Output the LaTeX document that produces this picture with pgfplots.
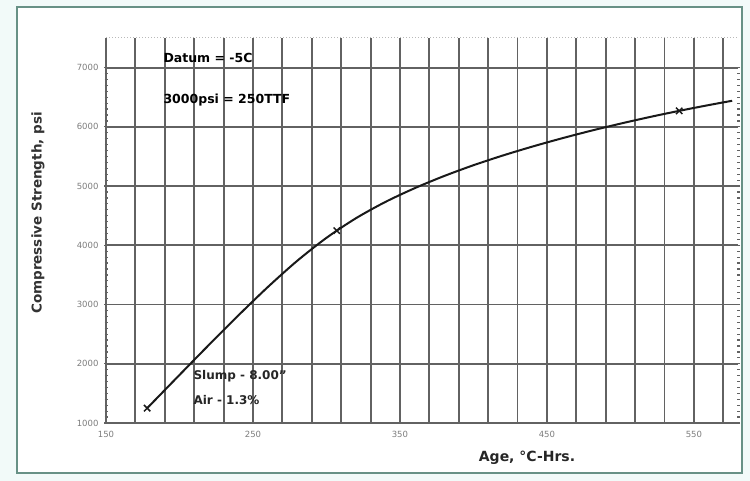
\documentclass[border=0pt]{standalone}
\usepackage{fontspec}
\setmainfont{DejaVu Sans}
\usepackage{pgfplots}
\pgfplotsset{compat=1.18}
\definecolor{gridc}{RGB}{98,98,98}
\definecolor{framec}{RGB}{104,145,134}
\definecolor{outbg}{RGB}{242,250,249}
\definecolor{tickc}{RGB}{125,125,125}
\begin{document}
\begin{tikzpicture}[x=1pt,y=1pt]
\path[use as bounding box, fill=outbg] (0,0) rectangle (750,481);
\draw[framec, line width=2pt, fill=white] (17,8) rectangle (742,474);
\begin{axis}[
  at={(106pt,58pt)}, anchor=south west,
  scale only axis, width=632pt, height=385pt,
  xmin=150, xmax=580, ymin=1000, ymax=7500,
  xtick={150,250,350,450,550},
  minor xtick={170,190,210,230,270,290,310,330,370,390,410,430,470,490,510,530,570},
  ytick={1000,2000,3000,4000,5000,6000,7000},
  minor y tick num=9,
  xmajorgrids, xminorgrids, ymajorgrids,
  major grid style={draw=gridc, line width=1.9pt},
  minor grid style={draw=gridc, line width=1.9pt},
  axis line style={draw=none},
  xtick style={draw=none},
  ytick style={draw=gridc, line width=1.2pt},
  major tick length=4pt, minor tick length=3pt,
  tick align=center,
  /pgf/number format/assume math mode=true,
  /pgf/number format/set thousands separator={},
  tick label style={font=\fontsize{8.5}{10}\selectfont, text=tickc},
  x tick label style={yshift=-3pt},
  y tick label style={xshift=-2pt},
  clip=false,
]
\draw[gridc, line width=1.9pt] (rel axis cs:0,0) -- (rel axis cs:0,1);
\draw[gridc, line width=1.9pt] (rel axis cs:0,0) -- (rel axis cs:1,0);
\draw[gray!55, line width=1pt, dotted] (rel axis cs:0,1) -- (rel axis cs:1,1);
\addplot[black!90, line width=2pt, smooth, no marks] coordinates {
(178,1250) (200,1811) (220,2318) (240,2815) (260,3293) (280,3736) (300,4126)
(320,4456) (340,4731) (360,4964) (380,5169) (400,5352) (420,5516) (440,5666)
(460,5805) (480,5934) (500,6054) (520,6166) (540,6270) (560,6367) (576,6440)
};
\addplot[black!90, only marks, mark=x, mark size=4.5pt, line width=1.5pt] coordinates {
(178,1250) (307,4248) (540,6270)
};
\end{axis}
\node[anchor=west, font=\fontsize{12.5}{14}\selectfont\bfseries] at (160,423) {Datum = -5C};
\node[anchor=west, font=\fontsize{12.5}{14}\selectfont\bfseries] at (160,381) {3000psi = 250TTF};
\node[anchor=west, font=\fontsize{12}{14}\selectfont\bfseries, text=black!85] at (190,105) {Slump - 8.00"};
\node[anchor=west, font=\fontsize{12}{14}\selectfont\bfseries, text=black!85] at (190,81) {Air - 1.3\%};
\node[font=\fontsize{14}{16}\selectfont\bfseries, text=black!85] at (527,23) {Age, °C-Hrs.};
\node[rotate=90, font=\fontsize{13.5}{16}\selectfont\bfseries, text=black!80] at (38,268) {Compressive Strength, psi};
\end{tikzpicture}
\end{document}
